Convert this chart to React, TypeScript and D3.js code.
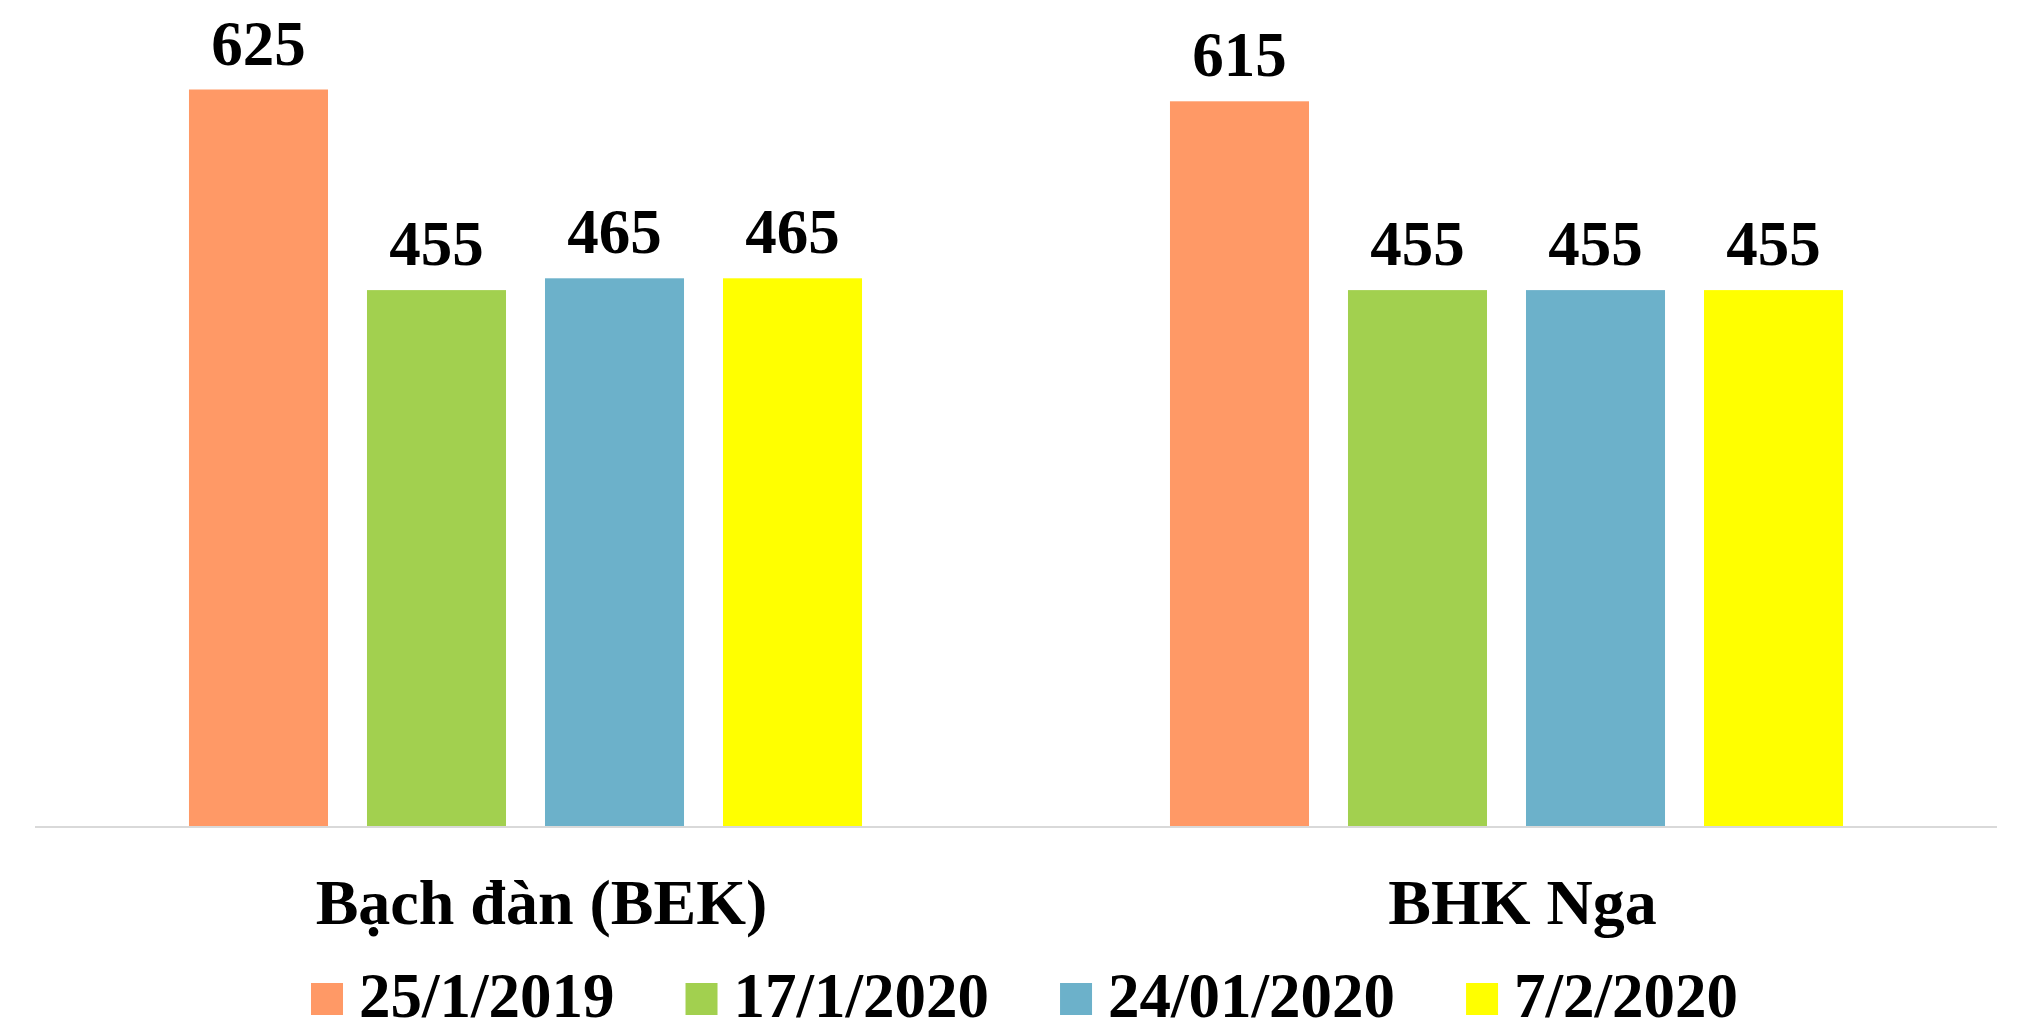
import React, { useEffect, useRef } from 'react'
import * as d3 from 'd3'

const categories = ['Bạch đàn (BEK)', 'BHK Nga']
const seriesNames = ['25/1/2019', '17/1/2020', '24/01/2020', '7/2/2020']
const colors = ['#FF9966', '#A2D04F', '#6CB1CA', '#FFFF00']
const s2019 = [625, 615]
const s1701 = [455, 455]
const s2401 = [465, 455]
const s0702 = [465, 455]

const W = 2019
const H = 1029

export default function App() {
  const ref = useRef<SVGSVGElement>(null)

  useEffect(() => {
    document.body.style.margin = '0'
    document.body.style.overflow = 'hidden'
    const svg = d3.select(ref.current)
    svg.selectAll('*').remove()

    const series = [s2019, s1701, s2401, s0702]
    const font = '"Liberation Serif", "Times New Roman", serif'

    const x0 = d3.scaleBand().domain(categories).range([35, 1997])
    // excel style: gap width 219%, overlap -28%
    const x1 = d3.scaleBand().domain(seriesNames).range([0, x0.bandwidth()])
      .paddingInner(0.219).paddingOuter(0.865)
    const y = d3.scaleLinear().domain([0, 700]).range([827, 1])

    const g = svg.append('g')
    categories.forEach((c, ci) => {
      const grp = g.append('g').attr('transform', 'translate(' + x0(c) + ',0)')
      seriesNames.forEach((s, si) => {
        const v = series[si][ci]
        grp.append('rect')
          .attr('x', x1(s)!)
          .attr('y', y(v))
          .attr('width', x1.bandwidth())
          .attr('height', y(0) - y(v))
          .attr('fill', colors[si])
        grp.append('text')
          .attr('x', x1(s)! + x1.bandwidth() / 2)
          .attr('y', y(v) - 25)
          .attr('text-anchor', 'middle')
          .style('font-family', font)
          .style('font-weight', 'bold')
          .style('font-size', '63px')
          .text(v)
      })
    })

    // baseline
    g.append('line')
      .attr('x1', 35).attr('x2', 1997)
      .attr('y1', y(0)).attr('y2', y(0))
      .attr('stroke', '#d9d9d9').attr('stroke-width', 2)

    // category labels
    g.selectAll('text.cat')
      .data(categories)
      .enter()
      .append('text')
      .attr('class', 'cat')
      .attr('x', (d) => x0(d)! + x0.bandwidth() / 2 + 16)
      .attr('y', 924)
      .attr('text-anchor', 'middle')
      .style('font-family', font)
      .style('font-weight', 'bold')
      .style('font-size', '64px')
      .text((d) => d)

    // legend
    const leg = g.append('g')
    let lx = 311
    seriesNames.forEach((s, i) => {
      leg.append('rect')
        .attr('x', lx).attr('y', 983)
        .attr('width', 32).attr('height', 32)
        .attr('fill', colors[i])
      const t = leg.append('text')
        .attr('x', lx + 48)
        .attr('y', 1017)
        .style('font-family', font)
        .style('font-weight', 'bold')
        .style('font-size', '63px')
        .text(s)
      const w = (t.node() as SVGTextElement).getComputedTextLength()
      lx = lx + 48 + w + 71
    })
  }, [])

  return (
    <svg ref={ref} width={W} height={H}
      style={{ position: 'absolute', left: 0, top: 0, background: '#fff' }} />
  )
}
